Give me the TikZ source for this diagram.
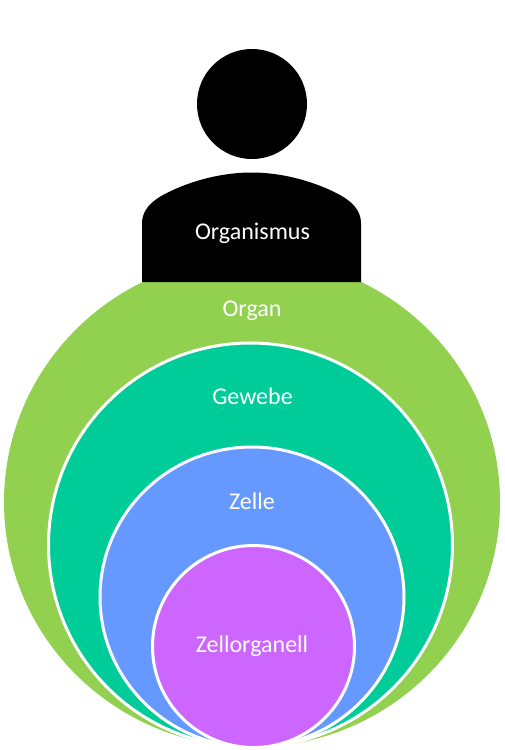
\documentclass[tikz,border=0pt]{standalone}
\usepackage{fontspec}
\setmainfont{Carlito}
\definecolor{organgreen}{HTML}{92D050}
\definecolor{gewebegreen}{HTML}{00CC99}
\definecolor{zelleblue}{HTML}{6699FF}
\definecolor{organellpurple}{HTML}{CC66FF}
\tikzset{
  ring/.style={draw=white,line width=3pt},
  label/.style={text=white,font=\fontsize{24}{28}\selectfont,inner sep=0pt}
}
\begin{document}
\begin{tikzpicture}[x=1pt,y=-1pt]
\useasboundingbox (0,0) rectangle (504,750);
\fill[organgreen] (252,502) ellipse[x radius=248,y radius=245];
\filldraw[ring,fill=gewebegreen] (250.5,545) circle[radius=202];
\filldraw[ring,fill=zelleblue] (252,597) ellipse[x radius=152,y radius=150];
\filldraw[ring,fill=organellpurple] (253.5,646.5) circle[radius=101];
\fill[black] (252,104) circle[radius=55];
\fill[black] (142,282) -- (142,223)
  .. controls (142,210) and (152,201) .. (163,195)
  .. controls (185,183) and (218,172.5) .. (251.5,172.5)
  .. controls (285,172.5) and (318,183) .. (340,195)
  .. controls (351,201) and (361,210) .. (361,223) -- (361,282) -- cycle;
\node[label] (organismus) at (252.5,233.5) {Organismus};
\node[label] (organ) at (252,311) {Organ};
\node[label] (gewebe) at (252.5,396) {Gewebe};
\node[label] (zelle) at (252,501) {Zelle};
\node[label] (zellorganell) at (252,646.5) {Zellorganell};
\end{tikzpicture}
\end{document}
